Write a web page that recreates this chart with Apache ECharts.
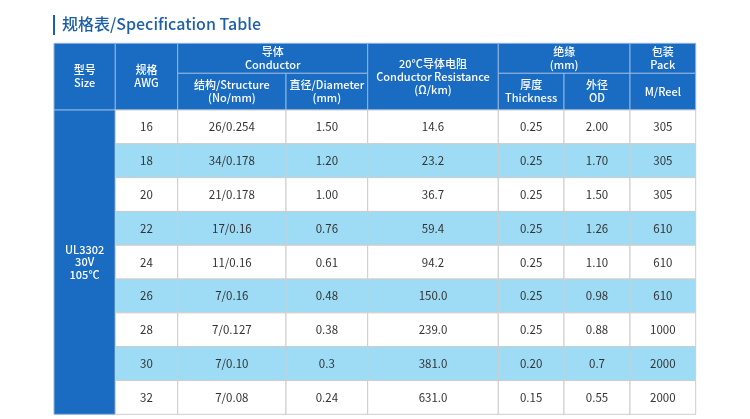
<!DOCTYPE html>
<html style="height: 100%">
<head>
<meta charset="utf-8">
</head>
<body style="height: 100%; margin: 0; background: #fff">
<div id="container" style="width: 750px; height: 419px"></div>
<script src="https://cdn.jsdelivr.net/npm/echarts@6/dist/echarts.min.js"></script>
<script>
// table values
var sizeLabel = 'UL3302\n30V\n105°C';
var awg = ['16', '18', '20', '22', '24', '26', '28', '30', '32'];
var structure = ['26/0.254', '34/0.178', '21/0.178', '17/0.16', '11/0.16', '7/0.16', '7/0.127', '7/0.10', '7/0.08'];
var diameter = ['1.50', '1.20', '1.00', '0.76', '0.61', '0.48', '0.38', '0.3', '0.24'];
var resistance = ['14.6', '23.2', '36.7', '59.4', '94.2', '150.0', '239.0', '381.0', '631.0'];
var thickness = ['0.25', '0.25', '0.25', '0.25', '0.25', '0.25', '0.25', '0.20', '0.15'];
var od = ['2.00', '1.70', '1.50', '1.26', '1.10', '0.98', '0.88', '0.7', '0.55'];
var pack = ['305', '305', '305', '610', '610', '610', '1000', '2000', '2000'];

// header: [text, firstCol, lastCol, band]  band: 0 = full height, 1 = top, 2 = bottom
var headers = [
  ['型号\nSize', 0, 0, 0],
  ['规格\nAWG', 1, 1, 0],
  ['导体\nConductor', 2, 3, 1],
  ['结构/Structure\n(No/mm)', 2, 2, 2],
  ['直径/Diameter\n(mm)', 3, 3, 2],
  ['20°C导体电阻\nConductor Resistance\n(Ω/km)', 4, 4, 0],
  ['绝缘\n(mm)', 5, 6, 1],
  ['厚度\nThickness', 5, 5, 2],
  ['外径\nOD', 6, 6, 2],
  ['包装\nPack', 7, 7, 1],
  ['M/Reel', 7, 7, 2]
];

// layout (axis units)
var colW = [61.3, 62.4, 108.3, 81.7, 130.6, 65.7, 66, 65.7];
var bandTop = 30, bandBottom = 36.7, rowH = 33.8;

var colX = [0];
colW.forEach(function (w, i) { colX.push(colX[i] + w); });
var headH = bandTop + bandBottom;

var BLUE = '#1a6cc2', LIGHT = '#9edcf6';
var cells = [];
headers.forEach(function (h) {
  var y0 = h[3] === 2 ? bandTop : 0;
  var y1 = h[3] === 1 ? bandTop : headH;
  cells.push([colX[h[1]], colX[h[2] + 1], y0, y1, h[0], 'head']);
});
cells.push([colX[0], colX[1], headH, headH + rowH * awg.length, sizeLabel, 'head']);
var cols = [awg, structure, diameter, resistance, thickness, od, pack];
awg.forEach(function (a, r) {
  cols.forEach(function (arr, c) {
    cells.push([colX[c + 1], colX[c + 2], headH + r * rowH, headH + (r + 1) * rowH, arr[r], r % 2 ? 'alt' : 'body']);
  });
});

var dom = document.getElementById('container');
var myChart = echarts.init(dom);

var option = {
  animation: false,
  title: {
    text: '规格表/Specification Table',
    left: 62,
    top: 16,
    padding: 0,
    textStyle: { fontFamily: 'Noto Sans CJK SC', fontSize: 16, fontWeight: 500, color: '#1e5fa8' }
  },
  graphic: [{
    type: 'rect', left: 53, top: 15,
    shape: { width: 2, height: 20 },
    style: { fill: '#1e5fa8' }
  }],
  grid: { left: 54, right: 54.3, top: 43.3, bottom: 4.7 },
  xAxis: { type: 'value', min: 0, max: colX[colX.length - 1], show: false },
  yAxis: { type: 'value', min: 0, max: headH + rowH * awg.length, inverse: true, show: false },
  series: [{
    type: 'custom',
    data: cells,
    renderItem: function (params, api) {
      var c = cells[params.dataIndex];
      var p0 = api.coord([c[0], c[2]]);
      var p1 = api.coord([c[1], c[3]]);
      var head = c[5] === 'head';
      return {
        type: 'group',
        children: [{
          type: 'rect',
          shape: { x: p0[0], y: p0[1], width: p1[0] - p0[0], height: p1[1] - p0[1] },
          style: {
            fill: head ? BLUE : (c[5] === 'alt' ? LIGHT : '#fff'),
            stroke: head ? '#8fb5df' : '#cdcdcd',
            lineWidth: 1
          }
        }, {
          type: 'text',
          x: (p0[0] + p1[0]) / 2,
          y: (p0[1] + p1[1]) / 2,
          style: {
            text: c[4],
            fill: head ? '#fff' : '#333',
            align: 'center',
            verticalAlign: 'middle',
            fontFamily: 'Noto Sans CJK SC',
            fontSize: head ? 11 : 11.5,
            fontWeight: head ? 500 : 400,
            lineHeight: head ? 12.8 : 13
          }
        }]
      };
    }
  }]
};

myChart.setOption(option);
</script>
</body>
</html>
